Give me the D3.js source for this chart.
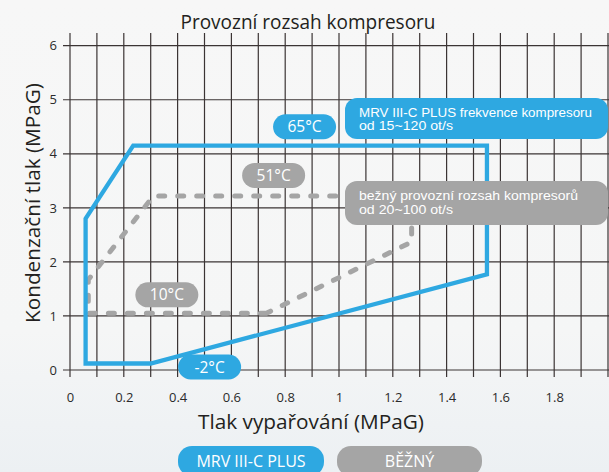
<!DOCTYPE html>
<html>
<head>
<meta charset="utf-8">
<script src="https://cdn.jsdelivr.net/npm/d3@7"></script>
<style>
    body { margin: 0; background: #f6f6f6; }
    svg { display: block; font-family: "Open Sans", sans-serif; }
</style>
</head>
<body>
<div id="grafico"></div>
<script>
// popisky os
const tickX = [0, 0.2, 0.4, 0.6, 0.8, 1, 1.2, 1.4, 1.6, 1.8];
const tickY = [0, 1, 2, 3, 4, 5, 6];

// MRV III-C PLUS (modrá obálka)
const plusX = [0.058, 0.30, 1.55, 1.55, 0.235, 0.058];
const plusY = [0.12, 0.12, 1.77, 4.15, 4.15, 2.80];

// běžný rozsah (šedá čárkovaná)
const bezX = [0.73, 0.068, 0.068, 0.31, 1.27, 1.27];
const bezY = [1.05, 1.05, 1.67, 3.22, 3.22, 2.37];

// teploty
const tempTexty = ["65°C", "51°C", "10°C", "-2°C"];
const tempX = [0.872, 0.757, 0.36, 0.519];
const tempY = [4.50, 3.60, 1.39, 0.055];
const tempSerie = ["plus", "bez", "bez", "plus"];

const legenda = ["MRV III-C PLUS", "BĚŽNÝ"];
const poznamkaPlus = ["MRV III-C PLUS frekvence kompresoru", "od 15~120 ot/s"];
const poznamkaBez = ["bežný provozní rozsah kompresorů", "od 20~100 ot/s"];

var sirka = 609;
var vyska = 472;
var modra = "#2ea8e1";
var seda = "#a5a5a5";
var mrizka = "#3b3434";

var svg = d3.select("#grafico")
    .append("svg")
    .attr("width", sirka)
    .attr("height", vyska);

var grad = svg.append("defs").append("linearGradient")
    .attr("id", "pozadi")
    .attr("x1", 0).attr("y1", 0).attr("x2", 0).attr("y2", 1);
grad.append("stop").attr("offset", "0%").attr("stop-color", "#f7f7f7");
grad.append("stop").attr("offset", "70%").attr("stop-color", "#f5f6f6");
grad.append("stop").attr("offset", "100%").attr("stop-color", "#ecf0f3");

svg.append("rect")
    .attr("width", sirka)
    .attr("height", vyska)
    .attr("fill", "url(#pozadi)");

var x = d3.scaleLinear().domain([0, 2]).range([70, 608]);
var y = d3.scaleLinear().domain([0, 6]).range([370, 45.7]);

// mřížka
svg.append("g")
    .selectAll("line")
    .data(x.ticks(20))
    .enter().append("line")
    .attr("x1", d => x(d)).attr("x2", d => x(d))
    .attr("y1", 33).attr("y2", 377)
    .attr("stroke", mrizka)
    .attr("stroke-width", 1.2);

svg.append("g")
    .selectAll("line")
    .data(tickY)
    .enter().append("line")
    .attr("x1", 63).attr("x2", sirka)
    .attr("y1", d => y(d)).attr("y2", d => y(d))
    .attr("stroke", mrizka)
    .attr("stroke-width", 1.2);

// popisky os
var osaX = svg.append("g")
    .attr("transform", "translate(0,370)")
    .call(d3.axisBottom(x).tickValues(tickX).tickSize(0).tickPadding(23).tickFormat(d3.format("")));
var osaY = svg.append("g")
    .attr("transform", "translate(70,0)")
    .call(d3.axisLeft(y).tickValues(tickY).tickSize(0).tickPadding(13).tickFormat(d3.format("d")));
[osaX, osaY].forEach(function (g) {
    g.select(".domain").remove();
    g.selectAll("text")
        .attr("font-family", "Open Sans, sans-serif")
        .attr("font-size", "13px")
        .attr("fill", "#2b2b2b");
});

// šedá čárkovaná oblast
var cara = d3.line().curve(d3.curveLinearClosed);
svg.append("path")
    .attr("d", cara(bezX.map((d, i) => [x(d), y(bezY[i])])))
    .attr("fill", "none")
    .attr("stroke", seda)
    .attr("stroke-width", 5)
    .attr("stroke-dasharray", "6 13")
    .attr("stroke-linecap", "round")
    .attr("stroke-linejoin", "round");

// modrá oblast
svg.append("path")
    .attr("d", cara(plusX.map((d, i) => [x(d), y(plusY[i])])))
    .attr("fill", "none")
    .attr("stroke", modra)
    .attr("stroke-width", 4.3)
    .attr("stroke-linejoin", "miter");

// teplotní štítky
var stitky = svg.append("g")
    .selectAll("g")
    .data(tempTexty)
    .enter().append("g")
    .attr("transform", (d, i) => "translate(" + x(tempX[i]) + "," + y(tempY[i]) + ")");
stitky.append("rect")
    .attr("x", -31.5).attr("y", -12.5)
    .attr("width", 63).attr("height", 25)
    .attr("rx", 12.5)
    .attr("fill", (d, i) => tempSerie[i] == "plus" ? modra : seda);
stitky.append("text")
    .attr("text-anchor", "middle")
    .attr("y", 5.5)
    .attr("font-size", "15.5px")
    .attr("fill", "white")
    .text(d => d);

// poznámky vpravo
function poznamka(radky, y0, h, barva, zaklad, delka) {
    svg.append("rect")
        .attr("x", 345).attr("y", y0)
        .attr("width", 263).attr("height", h)
        .attr("rx", 12)
        .attr("fill", barva);
    svg.selectAll(null)
        .data(radky)
        .enter().append("text")
        .attr("x", 359)
        .attr("y", (d, i) => zaklad + i * 13.5)
        .attr("font-family", "Liberation Sans Narrow, Liberation Sans, sans-serif")
        .attr("font-size", "12px")
        .attr("fill", "white")
        .attr("textLength", (d, i) => i == 0 ? delka : 94)
        .attr("lengthAdjust", "spacingAndGlyphs")
        .text(d => d);
}
poznamka(poznamkaPlus, 98, 41, modra, 116.5, 233);
poznamka(poznamkaBez, 181, 44, seda, 200, 219);

// titulky
svg.append("text")
    .attr("x", 308).attr("y", 29)
    .attr("text-anchor", "middle")
    .attr("font-size", "20px")
    .attr("fill", "#231f20")
    .attr("textLength", 255)
    .attr("lengthAdjust", "spacingAndGlyphs")
    .text("Provozní rozsah kompresoru");

svg.append("text")
    .attr("x", 311).attr("y", 429)
    .attr("text-anchor", "middle")
    .attr("font-size", "20px")
    .attr("fill", "#231f20")
    .attr("textLength", 226)
    .attr("lengthAdjust", "spacingAndGlyphs")
    .text("Tlak vypařování (MPaG)");

svg.append("text")
    .attr("transform", "translate(40,203) rotate(-90)")
    .attr("text-anchor", "middle")
    .attr("font-size", "20px")
    .attr("fill", "#231f20")
    .attr("textLength", 240)
    .attr("lengthAdjust", "spacingAndGlyphs")
    .text("Kondenzační tlak (MPaG)");

// legenda
var leg = svg.append("g")
    .selectAll("g")
    .data(legenda)
    .enter().append("g")
    .attr("transform", (d, i) => "translate(" + (i == 0 ? 178 : 337) + ",446)");
leg.append("rect")
    .attr("width", (d, i) => i == 0 ? 146 : 145)
    .attr("height", 30)
    .attr("rx", 14)
    .attr("fill", (d, i) => i == 0 ? modra : seda);
leg.append("text")
    .attr("x", (d, i) => i == 0 ? 73 : 72.5)
    .attr("y", 21)
    .attr("text-anchor", "middle")
    .attr("font-size", "16px")
    .attr("fill", "white")
    .text(d => d);
</script>
</body>
</html>
